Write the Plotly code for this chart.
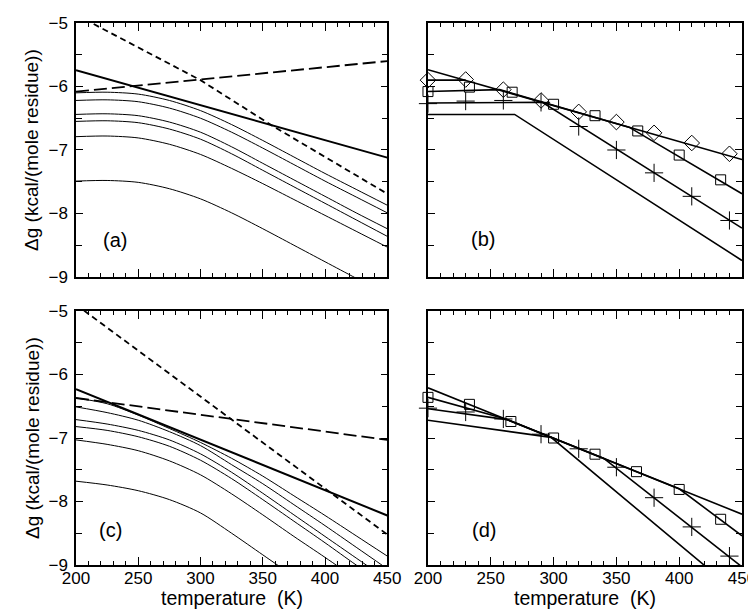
import plotly.graph_objects as go

FONT = "Liberation Sans, Arial, Helvetica, sans-serif"

# ---------------- data ----------------
T_grid = [200, 225, 250, 275, 300, 325, 350, 375, 400, 425, 450]

# Panel (a)
a_solid_T = [200, 450]
a_solid = [-5.745, -7.12]
a_sdash_T = [200, 212.5, 300, 357, 400, 450]
a_sdash = [-4.87, -5.0, -5.90, -6.61, -7.11, -7.69]
a_ldash_T = [200, 450]
a_ldash = [-6.08, -5.60]
a_thin = [
    [-6.10, -6.09, -6.12, -6.22, -6.38, -6.60, -6.85, -7.11, -7.37, -7.62, -7.87],
    [-6.22, -6.21, -6.24, -6.34, -6.50, -6.72, -6.97, -7.23, -7.49, -7.74, -7.99],
    [-6.44, -6.43, -6.46, -6.56, -6.72, -6.95, -7.21, -7.47, -7.73, -7.99, -8.24],
    [-6.55, -6.54, -6.57, -6.67, -6.83, -7.06, -7.32, -7.58, -7.84, -8.10, -8.36],
    [-6.79, -6.78, -6.81, -6.91, -7.07, -7.29, -7.53, -7.78, -8.03, -8.28, -8.53],
    [-7.49, -7.48, -7.51, -7.61, -7.77, -7.99, -8.24, -8.50, -8.76, -9.02, -9.28],
]

# Panel (b)
b_main_T = [200, 450]
b_main = [-5.735, -7.15]
b_dia_line_T = [200, 230]
b_dia_line = [-5.90, -5.90]
b_sq_line_T = [200, 257, 360, 450]
b_sq_line = [-6.08, -6.05, -6.64, -7.69]
b_pl_line_T = [200, 291, 450]
b_pl_line = [-6.26, -6.25, -8.23]
b_flat_line_T = [200, 269, 450]
b_flat_line = [-6.44, -6.44, -8.74]
b_dia_T = [200, 230, 260, 290, 320, 350, 380, 410, 440]
b_dia = [-5.90, -5.89, -6.05, -6.22, -6.40, -6.56, -6.73, -6.89, -7.06]
b_sq_T = [200, 233, 267, 300, 333, 367, 400, 433]
b_sq = [-6.08, -6.01, -6.09, -6.28, -6.46, -6.70, -7.08, -7.47]
b_pl_T = [200, 230, 260, 290, 320, 350, 380, 410, 440]
b_pl = [-6.27, -6.23, -6.22, -6.25, -6.63, -7.00, -7.36, -7.73, -8.11]

# Panel (c)
c_solid_T = [200, 450]
c_solid = [-6.23, -8.22]
c_sdash_T = [200, 450]
c_sdash = [-4.90, -8.52]
c_ldash_T = [200, 450]
c_ldash = [-6.37, -7.03]
c_thin = [
    [-6.37, -6.46, -6.64, -6.85, -7.07, -7.32, -7.60, -7.91, -8.22, -8.54, -8.86],
    [-6.51, -6.60, -6.72, -6.90, -7.12, -7.42, -7.72, -8.05, -8.38, -8.72, -9.06],
    [-6.71, -6.78, -6.88, -7.03, -7.25, -7.54, -7.87, -8.21, -8.55, -8.89, -9.23],
    [-6.82, -6.88, -6.98, -7.13, -7.35, -7.64, -7.97, -8.31, -8.65, -9.00, -9.34],
    [-7.03, -7.10, -7.20, -7.36, -7.58, -7.88, -8.21, -8.55, -8.88, -9.22, -9.56],
    [-7.68, -7.74, -7.83, -7.97, -8.18, -8.50, -8.84, -9.18, -9.52, -9.86, -10.20],
]

# Panel (d)
d_main_T = [200, 450]
d_main = [-6.21, -8.20]
d_sq_line_T = [200, 262, 400, 450]
d_sq_line = [-6.36, -6.70, -7.80, -8.54]
d_pl_line_T = [200, 263, 340, 450]
d_pl_line = [-6.54, -6.71, -7.32, -9.03]
d_low_line_T = [200, 298, 450]
d_low_line = [-6.72, -6.99, -9.50]
d_sq_T = [200, 233, 266, 300, 333, 366, 400, 433]
d_sq = [-6.36, -6.47, -6.74, -7.00, -7.255, -7.53, -7.81, -8.28]
d_pl_T = [200, 230, 260, 290, 320, 350, 380, 410, 440]
d_pl = [-6.53, -6.59, -6.70, -6.94, -7.17, -7.46, -7.94, -8.40, -8.86]

x_ticks = [200, 250, 300, 350, 400, 450]
y_ticks = [-9, -8, -7, -6, -5]
panel_labels = ["(a)", "(b)", "(c)", "(d)"]
label_pos_T = [231.6, 243.8, 227.5, 244.6]
label_pos_v = [-8.42, -8.40, -8.45, -8.45]
y_title = "Δg (kcal/(mole residue))"
x_title = "temperature  (K)"

# ---------------- figure ----------------
fig = go.Figure()

SHORT = "6px,4px"
LONG = "13px,5px"


def line(xs, ys, ax, width=1.0, dash="solid", shape="linear"):
    fig.add_trace(go.Scatter(
        x=xs, y=ys, mode="lines", xaxis=ax[0], yaxis=ax[1],
        line=dict(color="black", width=width, dash=dash, shape=shape, smoothing=0.8),
        showlegend=False, hoverinfo="skip"))


def markers(xs, ys, ax, symbol, size):
    fig.add_trace(go.Scatter(
        x=xs, y=ys, mode="markers", xaxis=ax[0], yaxis=ax[1], cliponaxis=False,
        marker=dict(symbol=symbol, size=size, color="black",
                    line=dict(color="black", width=1)),
        showlegend=False, hoverinfo="skip"))


A = ("x", "y")
B = ("x2", "y2")
C = ("x3", "y3")
D = ("x4", "y4")

# (a)
for ys in a_thin:
    line(T_grid, ys, A, 1.0, shape="spline")
line(a_solid_T, a_solid, A, 2.0)
line(a_sdash_T, a_sdash, A, 1.8, SHORT)
line(a_ldash_T, a_ldash, A, 1.8, LONG)

# (b)
line(b_main_T, b_main, B, 1.6)
line(b_dia_line_T, b_dia_line, B, 1.6)
line(b_sq_line_T, b_sq_line, B, 1.6)
line(b_pl_line_T, b_pl_line, B, 1.6)
line(b_flat_line_T, b_flat_line, B, 1.6)
markers(b_dia_T, b_dia, B, "diamond-open", 12)
markers(b_sq_T, b_sq, B, "square-open", 10)
markers(b_pl_T, b_pl, B, "cross-thin-open", 13)

# (c)
for ys in c_thin:
    line(T_grid, ys, C, 1.0, shape="spline")
line(c_solid_T, c_solid, C, 2.0)
line(c_sdash_T, c_sdash, C, 1.8, SHORT)
line(c_ldash_T, c_ldash, C, 1.8, LONG)

# (d)
line(d_main_T, d_main, D, 1.6)
line(d_sq_line_T, d_sq_line, D, 1.6)
line(d_pl_line_T, d_pl_line, D, 1.6)
line(d_low_line_T, d_low_line, D, 1.6)
markers(d_sq_T, d_sq, D, "square-open", 10)
markers(d_pl_T, d_pl, D, "cross-thin-open", 13)

# panel labels
for i, (lab, tx, ty) in enumerate(zip(panel_labels, label_pos_T, label_pos_v)):
    sfx = "" if i == 0 else str(i + 1)
    fig.add_annotation(x=tx, y=ty, xref="x" + sfx, yref="y" + sfx, text=lab,
                       showarrow=False, font=dict(family=FONT, size=20, color="black"))

# axis titles as paper annotations
for yc in (0.7657, 0.2343):
    fig.add_annotation(x=-0.0661, y=yc, xref="paper", yref="paper", text=y_title,
                       textangle=-90, showarrow=False, xanchor="center", yanchor="middle",
                       font=dict(family=FONT, size=19, color="black"))
for xc in (0.2337, 0.7637):
    fig.add_annotation(x=xc, y=-0.0610, xref="paper", yref="paper", text=x_title,
                       showarrow=False, xanchor="center", yanchor="middle",
                       font=dict(family=FONT, size=19.5, color="black"))

xdom_l = [0.0, 0.4674]
xdom_r = [0.5285, 1.0]
ydom_t = [0.5314, 1.0]
ydom_b = [0.0, 0.4686]


def xaxis(dom, anchor, labels):
    return dict(domain=dom, anchor=anchor, range=[200, 450], tickvals=x_ticks,
                showticklabels=labels, ticks="inside", ticklen=8, tickwidth=1,
                tickcolor="black", showline=True, linecolor="black", linewidth=1.5,
                mirror="allticks", showgrid=False, zeroline=False, automargin=False,
                ticklabelstandoff=-3,
                minor=dict(dtick=10, tick0=200, ticks="inside", ticklen=4,
                           tickwidth=1, tickcolor="black", showgrid=False),
                tickfont=dict(family=FONT, size=17, color="black"))


def yaxis(dom, anchor, labels):
    return dict(domain=dom, anchor=anchor, range=[-9, -5], tickvals=y_ticks,
                showticklabels=labels, ticks="inside", ticklen=7, tickwidth=1,
                tickcolor="black", showline=True, linecolor="black", linewidth=1.5,
                mirror="allticks", showgrid=False, zeroline=False, automargin=False,
                ticklabelstandoff=3,
                minor=dict(dtick=0.5, tick0=-9, ticks="inside", ticklen=6,
                           tickwidth=1, tickcolor="black", showgrid=False),
                tickfont=dict(family=FONT, size=17, color="black"))


fig.update_layout(
    width=756, height=614,
    margin=dict(l=68, r=22, t=15, b=57),
    paper_bgcolor="white", plot_bgcolor="white",
    showlegend=False,
    xaxis=xaxis(xdom_l, "y", False),
    yaxis=yaxis(ydom_t, "x", True),
    xaxis2=xaxis(xdom_r, "y2", False),
    yaxis2=yaxis(ydom_t, "x2", False),
    xaxis3=xaxis(xdom_l, "y3", True),
    yaxis3=yaxis(ydom_b, "x3", True),
    xaxis4=xaxis(xdom_r, "y4", True),
    yaxis4=yaxis(ydom_b, "x4", False),
)

fig.write_html("out.html")
